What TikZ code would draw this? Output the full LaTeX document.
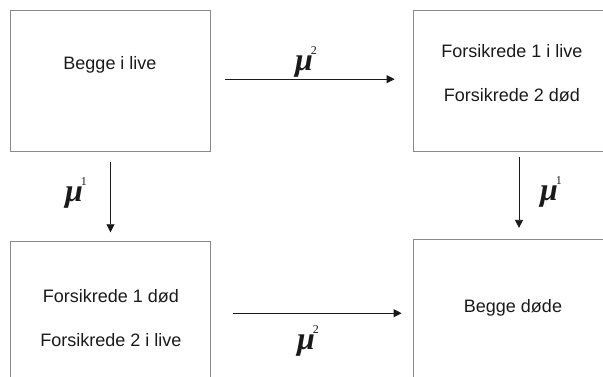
\documentclass[tikz,border=0pt]{standalone}
\usepackage{fontspec}
\setmainfont{Liberation Sans}
\newfontfamily\muf{Liberation Serif}
\usetikzlibrary{arrows.meta,calc}
\definecolor{boxgray}{HTML}{8A8A8A}
\definecolor{txt}{HTML}{1A1A1A}
\newcommand{\mulab}[1]{{\muf\fontsize{32}{32}\selectfont\bfseries\itshape μ\kern-0.06em\raisebox{0.48em}{\normalfont\muf\fontsize{12}{12}\selectfont #1}}}
\begin{document}
\begin{tikzpicture}[x=1pt,y=-1pt,
  statebox/.style={draw=boxgray,line width=0.8pt,rectangle,minimum width=200pt,minimum height=141pt,inner sep=0pt},
  statetxt/.style={font=\fontsize{18}{44}\selectfont,text=txt,align=center,inner sep=0pt},
  arr/.style={draw=txt,line width=0.8pt,-{Triangle[length=8pt,width=8pt]}},
  rate/.style={inner sep=0pt,text=txt}]
\useasboundingbox (0,0) rectangle (603,377);
\begin{scope}
\clip (0,0) rectangle (603,377);
\node[statebox] (A) at (110.5,81.2) {};
\node[statebox] (B) at (513,81.2) {};
\node[statebox] (C) at (110.7,312.2) {};
\node[statebox] (D) at (513,309.8) {};
\end{scope}
\node[statetxt] (tA) at (110,65) {Begge i live};
\node[statetxt] (tB) at (512,73) {Forsikrede 1 i live\\Forsikrede 2 død};
\node[statetxt] (tC) at (111,318.5) {Forsikrede 1 død\\Forsikrede 2 i live};
\node[statetxt] (tD) at (513,308) {Begge døde};
\draw[arr,shorten <=14pt,shorten >=18pt] ([yshift=2pt]A.east) -- ([yshift=2pt]B.west);
\draw[arr,shorten <=22pt,shorten >=11pt] ([yshift=-1pt]C.east) -- ([yshift=-1pt]C.east -| D.west);
\draw[arr,shorten <=10pt,shorten >=9pt] (A.south) -- (A.south |- C.north);
\draw[arr,shorten <=5pt,shorten >=11pt] ([xshift=6pt]B.south) -- ([xshift=6pt]B.south |- D.north);
\node[rate] (m1) at (306,62) {\mulab{2}};
\node[rate] (m2) at (308,341) {\mulab{2}};
\node[rate] (m3) at (76,193) {\mulab{1}};
\node[rate] (m4) at (551,192) {\mulab{1}};
\end{tikzpicture}
\end{document}
